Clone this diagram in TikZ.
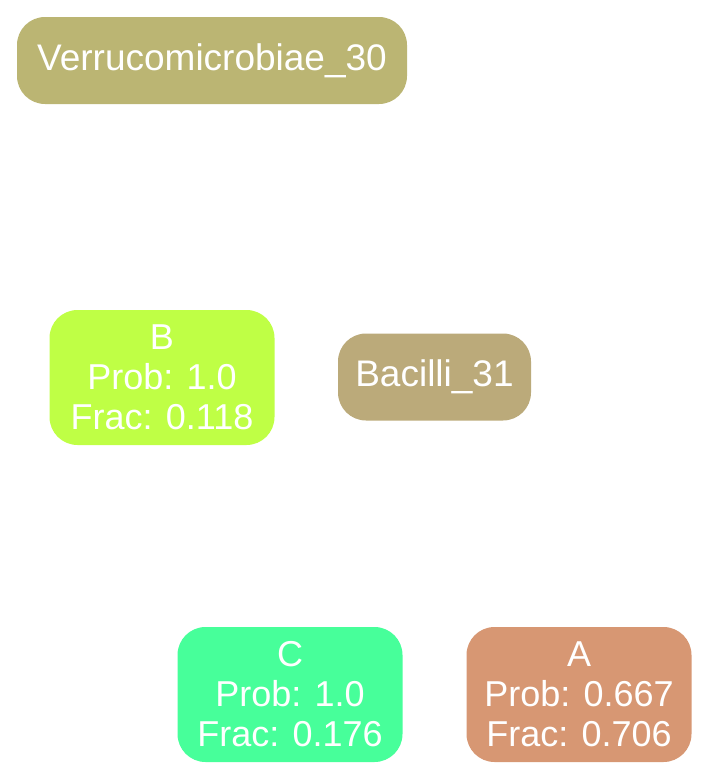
\documentclass[tikz,border=0pt]{standalone}
\usepackage{fontspec}
\setmainfont{Liberation Sans}
\usetikzlibrary{positioning}
\definecolor{VerrucoOlive}{HTML}{BBB573}
\definecolor{BacilliTan}{HTML}{BBAA7A}
\definecolor{CloneLime}{HTML}{BFFF45}
\definecolor{CloneMint}{HTML}{47FF9A}
\definecolor{CloneSalmon}{HTML}{D79773}

\begin{document}
\begin{tikzpicture}[
  x=1pt, y=-1pt,
  taxon/.style={rounded corners=28pt, inner sep=0pt, minimum height=87pt, text=white, align=center, font=\fontsize{37}{40}\selectfont},
  clone/.style={rounded corners=28pt, inner sep=0pt, minimum width=225pt, minimum height=135pt, text=white, align=center, font=\fontsize{36}{40}\selectfont}
]
\useasboundingbox (0,0) rectangle (710,779);
\node[taxon, fill=VerrucoOlive, minimum width=390pt] (verruco) at (212,60.5) {Verrucomicrobiae\_30};
\node[clone, fill=CloneLime] (b) at (162,377.5) {B\\Prob: 1.0\\Frac: 0.118};
\node[taxon, fill=BacilliTan, minimum width=193pt] (bacilli) at (434.5,377) {Bacilli\_31};
\node[clone, fill=CloneMint] (c) at (290,694.5) {C\\Prob: 1.0\\Frac: 0.176};
\node[clone, fill=CloneSalmon] (a) at (579,694.5) {A\\Prob: 0.667\\Frac: 0.706};
\end{tikzpicture}
\end{document}
